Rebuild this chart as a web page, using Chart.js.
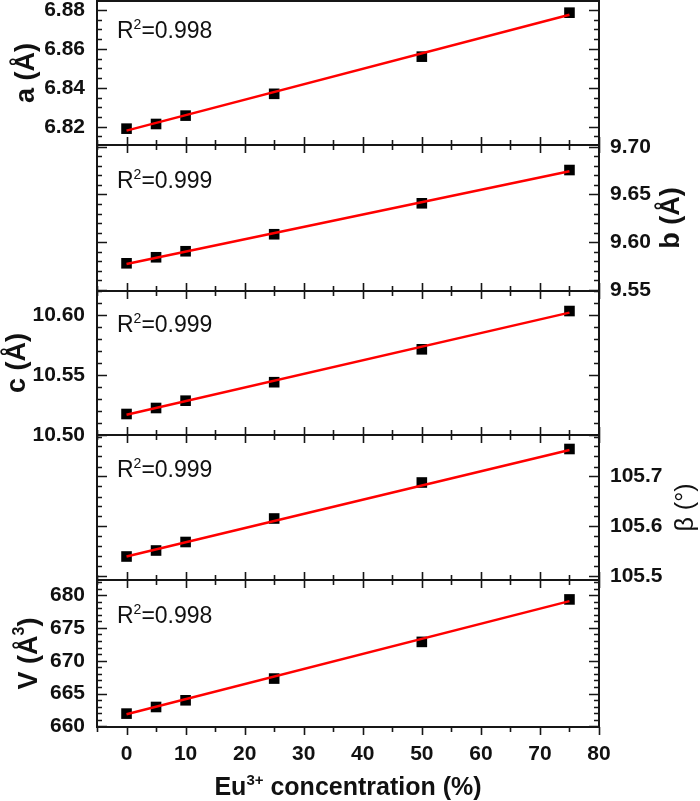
<!DOCTYPE html>
<html>
<head>
<meta charset="utf-8">
<script src="https://cdn.jsdelivr.net/npm/chart.js@4.4.1/dist/chart.umd.min.js"></script>
<style>
  html, body { margin: 0; padding: 0; background: #fff; overflow: hidden; }
  #wrap { position: relative; width: 700px; height: 801px; }
  #wrap canvas { position: absolute; left: 0; }
</style>
</head>
<body>
<div id="wrap"></div>
<script>
// Eu3+ concentration (%) and lattice parameters
const conc = [0, 5, 10, 25, 50, 75];
const aVals = [6.8190, 6.8214, 6.8257, 6.8369, 6.8560, 6.8786];
const bVals = [9.5780, 9.5843, 9.5906, 9.6084, 9.6408, 9.6756];
const cVals = [10.5175, 10.5225, 10.5286, 10.5440, 10.5714, 10.6033];
const betaVals = [105.540, 105.552, 105.569, 105.616, 105.688, 105.755];
const volVals = [661.94, 662.95, 663.97, 667.28, 672.87, 679.34];

// linear fit end points (at 0 and 75 %)
const fitConc = [0, 75];
const aFit = [6.8180, 6.8775];
const bFit = [9.5773, 9.6743];
const cFit = [10.5169, 10.6020];
const betaFit = [105.540, 105.753];
const volFit = [661.83, 679.08];

const r2Labels = ['0.998', '0.999', '0.999', '0.999', '0.998'];

const xTicks = [0, 10, 20, 30, 40, 50, 60, 70, 80];
const aTicks = [6.82, 6.84, 6.86, 6.88];
const bTicks = [9.55, 9.60, 9.65, 9.70];
const cTicks = [10.50, 10.55, 10.60];
const betaTicks = [105.5, 105.6, 105.7];
const volTicks = [660, 665, 670, 675, 680];

const W = 700, H = 801, PLOT_L = 97, PLOT_R = 599, PAD = 30;
const AXIS = '#161616';
const FONT = '"Liberation Sans", Arial, Helvetica, sans-serif';

const panels = [
  { vals: aVals, fit: aFit, ticks: aTicks, r2: r2Labels[0], top: 1, bottom: 145, side: 'left',
    min: 6.8106, max: 6.8846, major: 0.02, minor: 0.005, dec: 2, r2Y: 37,
    title: [['a (Å)', 0]], titleX: 27, titleBold: true },
  { vals: bVals, fit: bFit, ticks: bTicks, r2: r2Labels[1], top: 145, bottom: 291, side: 'right',
    min: 9.549, max: 9.7018, major: 0.05, minor: 0.01, dec: 2, r2Y: 43,
    title: [['b (Å)', 0]], titleX: 672, titleBold: true },
  { vals: cVals, fit: cFit, ticks: cTicks, r2: r2Labels[2], top: 291, bottom: 435, side: 'left',
    min: 10.50, max: 10.62, major: 0.05, minor: 0.01, dec: 2, r2Y: 41,
    title: [['c (Å)', 0]], titleX: 18, titleBold: true },
  { vals: betaVals, fit: betaFit, ticks: betaTicks, r2: r2Labels[3], top: 435, bottom: 580, side: 'right',
    min: 105.493, max: 105.783, major: 0.1, minor: 0.02, dec: 1, r2Y: 42,
    title: [['β (°)', 0]], titleX: 686, titleBold: false },
  { vals: volVals, fit: volFit, ticks: volTicks, r2: r2Labels[4], top: 580, bottom: 727, side: 'left',
    min: 659.9, max: 682.3, major: 5, minor: 1, dec: 0, r2Y: 43,
    title: [['V (Å', 0], ['3', 1], [')', 0]], titleX: 30, titleBold: true }
];

const wrap = document.getElementById('wrap');

function drawParts(ctx, parts, x, y, size, bold, center) {
  const big = (bold ? 'bold ' : '') + size + 'px ' + FONT;
  const small = (bold ? 'bold ' : '') + Math.round(size * 0.6) + 'px ' + FONT;
  let total = 0;
  parts.forEach(p => { ctx.font = p[1] ? small : big; total += ctx.measureText(p[0]).width; });
  let cx = center ? x - total / 2 : x;
  parts.forEach(p => {
    ctx.font = p[1] ? small : big;
    ctx.fillText(p[0], cx, p[1] ? y - size * 0.4 : y);
    cx += ctx.measureText(p[0]).width;
  });
}

function makePanel(P, i) {
  const last = i === panels.length - 1;
  const cTop = P.top - PAD;
  const cBottom = last ? H : P.bottom + PAD;
  const canvas = document.createElement('canvas');
  canvas.width = W;
  canvas.height = cBottom - cTop;
  canvas.style.top = cTop + 'px';
  wrap.appendChild(canvas);

  const left = P.side === 'left';

  const decor = {
    id: 'decor' + i,
    afterDraw(chart) {
      const { ctx, chartArea: ca, scales: { x, y } } = chart;
      ctx.save();
      ctx.strokeStyle = AXIS;
      ctx.lineWidth = 1.6;
      ctx.beginPath();
      // y ticks, inward on both sides
      const n0 = Math.ceil(P.min / P.minor - 1e-6), n1 = Math.floor(P.max / P.minor + 1e-6);
      for (let k = n0; k <= n1; k++) {
        const v = k * P.minor;
        const r = v / P.major;
        const len = Math.abs(r - Math.round(r)) < 1e-6 ? 10 : 5;
        const py = Math.round(y.getPixelForValue(v)) + 0.5;
        ctx.moveTo(ca.left, py); ctx.lineTo(ca.left + len, py);
        ctx.moveTo(ca.right, py); ctx.lineTo(ca.right - len, py);
      }
      // x ticks
      for (let k = -1; k <= 16; k++) {
        const v = k * 5;
        const len = k % 2 === 0 ? 8 : 5;
        const px = Math.round(x.getPixelForValue(v)) + 0.5;
        if (i > 0) { ctx.moveTo(px, ca.top); ctx.lineTo(px, ca.top + len); }
        if (last) { ctx.moveTo(px, ca.bottom); ctx.lineTo(px, ca.bottom + len); }
        else { ctx.moveTo(px, ca.bottom); ctx.lineTo(px, ca.bottom - len); }
      }
      ctx.stroke();
      ctx.lineWidth = 2;
      ctx.strokeRect(ca.left, ca.top, ca.right - ca.left, ca.bottom - ca.top);

      // R^2 label
      ctx.fillStyle = '#111';
      ctx.textAlign = 'left';
      ctx.textBaseline = 'alphabetic';
      drawParts(ctx, [['R', 0], ['2', 1], ['=' + P.r2, 0]], ca.left + 20, ca.top + P.r2Y, 23, false, false);

      // y title, rotated
      ctx.save();
      ctx.translate(P.titleX, (ca.top + ca.bottom) / 2);
      ctx.rotate(-Math.PI / 2);
      ctx.textBaseline = 'middle';
      drawParts(ctx, P.title, 0, 0, P.titleBold ? 27 : 25, P.titleBold, true);
      ctx.restore();

      // x title
      if (last) {
        ctx.textBaseline = 'alphabetic';
        drawParts(ctx, [['Eu', 0], ['3+', 1], [' concentration (%)', 0]],
          (ca.left + ca.right) / 2, ca.bottom + 68, 25, true, true);
      }
      ctx.restore();
    }
  };

  new Chart(canvas, {
    type: 'scatter',
    data: {
      datasets: [
        {
          data: fitConc.map((c, k) => ({ x: c, y: P.fit[k] })),
          showLine: true,
          borderColor: '#ff0000',
          borderWidth: 2.5,
          pointRadius: 0,
          order: 1
        },
        {
          data: conc.map((c, k) => ({ x: c, y: P.vals[k] })),
          pointStyle: 'rect',
          pointRadius: 7.5,
          backgroundColor: '#000',
          borderColor: '#000',
          borderWidth: 0,
          order: 2
        }
      ]
    },
    options: {
      responsive: false,
      animation: false,
      events: [],
      layout: {
        padding: {
          top: PAD,
          bottom: last ? 0 : PAD,
          left: left ? 0 : PLOT_L,
          right: left ? W - PLOT_R : 0
        }
      },
      plugins: { legend: { display: false }, tooltip: { enabled: false } },
      scales: {
        x: {
          type: 'linear',
          min: -5,
          max: 80,
          display: last,
          afterBuildTicks: s => { s.ticks = xTicks.map(v => ({ value: v })); },
          afterFit: s => { s.height = last ? H - P.bottom : 0; },
          grid: { display: false, drawTicks: false },
          border: { display: false },
          ticks: {
            padding: 15,
            color: '#111',
            font: { family: FONT, size: 21, weight: 'bold' },
            maxRotation: 0
          }
        },
        y: {
          type: 'linear',
          position: P.side,
          min: P.min,
          max: P.max,
          afterBuildTicks: s => { s.ticks = P.ticks.map(v => ({ value: v })); },
          afterFit: s => { s.width = left ? PLOT_L : W - PLOT_R; },
          grid: { display: false, drawTicks: false },
          border: { display: false },
          ticks: {
            padding: left ? 12 : 11,
            color: '#111',
            font: { family: FONT, size: 21, weight: 'bold' },
            callback: v => Number(v).toFixed(P.dec)
          }
        }
      }
    },
    plugins: [decor]
  });
}

panels.forEach(makePanel);
</script>
</body>
</html>
